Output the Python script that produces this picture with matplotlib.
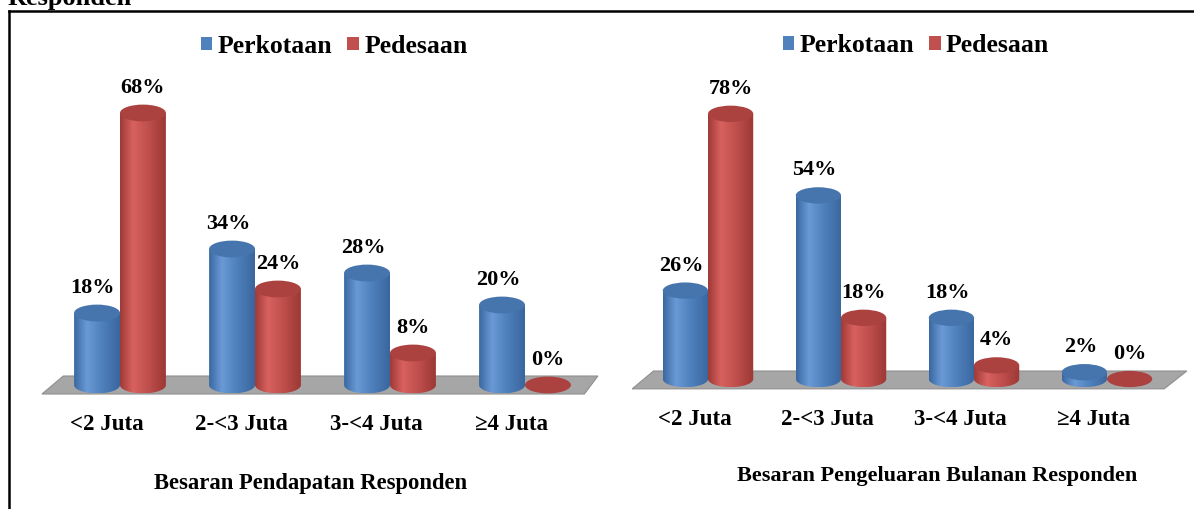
import matplotlib
matplotlib.use('Agg')
import matplotlib.pyplot as plt
import numpy as np
from matplotlib.patches import Polygon, Ellipse, Patch
from matplotlib.colors import LinearSegmentedColormap

plt.rcParams['font.family'] = ['Liberation Serif', 'DejaVu Serif']
plt.rcParams['font.weight'] = 'bold'

categories = ['<2 Juta', '2-<3 Juta', '3-<4 Juta', '\u22654 Juta']
series = ['Perkotaan', 'Pedesaan']

pendapatan_kota = [18, 34, 28, 20]
pendapatan_desa = [68, 24, 8, 0]

pengeluaran_kota = [26, 54, 18, 2]
pengeluaran_desa = [78, 18, 4, 0]

title_left = 'Besaran Pendapatan Responden'
title_right = 'Besaran Pengeluaran Bulanan Responden'

blue_cmap = LinearSegmentedColormap.from_list(
    'b', [(0, '#3a67a0'), (0.28, '#6a9ad6'), (0.6, '#4f81bd'), (1, '#3a669e')])
red_cmap = LinearSegmentedColormap.from_list(
    'r', [(0, '#9e3a37'), (0.28, '#d8615e'), (0.6, '#c0504d'), (1, '#9c3835')])
blue_top = '#4674ad'
red_top = '#ab423f'

W = 1194
H = 509
fig = plt.figure(figsize=(W / 100, H / 100), dpi=100)


def cylinder(ax, xc, val, w, eh, cmap, top_color, z):
    if val > 0:
        t = np.linspace(np.pi, 2 * np.pi, 60)
        verts = list(zip(xc + w / 2 * np.cos(t), eh / 2 * np.sin(t)))
        verts += [(xc + w / 2, val), (xc - w / 2, val)]
        body = Polygon(verts, closed=True, facecolor='none', edgecolor='none', zorder=z)
        ax.add_patch(body)
        grad = np.linspace(0, 1, 200).reshape(1, -1)
        im = ax.imshow(grad, cmap=cmap, extent=(xc - w / 2, xc + w / 2, -eh / 2, val),
                       aspect='auto', origin='lower', zorder=z, interpolation='bilinear')
        im.set_clip_path(body)
    ax.add_patch(Ellipse((xc, val), w, eh, facecolor=top_color, edgecolor='none', zorder=z + 0.1))


def panel(rect, kota, desa, ylim, eh, floor, lab_y, title, title_x, title_y, title_fs, leg_pos):
    ax = fig.add_axes(rect)
    ax.add_patch(Polygon(floor, closed=True, facecolor='#a6a6a6', edgecolor='#8f8f8f',
                         lw=0.8, zorder=1))
    x = np.arange(len(categories))
    w = 0.34
    px_per = (rect[3] * H) / (ylim[1] - ylim[0])
    off = 25 / px_per
    for i in range(len(categories)):
        cylinder(ax, x[i] - w / 2, kota[i], w, eh, blue_cmap, blue_top, 2 + i)
        cylinder(ax, x[i] + w / 2, desa[i], w, eh, red_cmap, red_top, 2.5 + i)
        ax.text(x[i] - w / 2 - 0.03, kota[i] + off, f'{kota[i]}%', ha='center', va='center',
                fontsize=16, fontweight='bold', zorder=10)
        ax.text(x[i] + w / 2, desa[i] + off, f'{desa[i]}%', ha='center', va='center',
                fontsize=16, fontweight='bold', zorder=10)
        ax.text(x[i] - 0.1, lab_y, categories[i], ha='center', va='center',
                fontsize=16.5, fontweight='bold')
    ax.text(title_x, title_y, title, ha='center', va='center', fontsize=title_fs,
            fontweight='bold')
    handles = [Patch(facecolor='#4f81bd'), Patch(facecolor='#c0504d')]
    ax.legend(handles, series, loc='center', bbox_to_anchor=leg_pos, ncol=2, frameon=False,
              handlelength=0.45, handleheight=0.45, handletextpad=0.2,
              columnspacing=0.6, prop={'weight': 'bold', 'size': 18.5})
    ax.set_xlim(-0.75, 3.75)
    ax.set_ylim(*ylim)
    ax.axis('off')
    return ax


# left panel: 135 px per group, 4 px per percent, baseline at y=385 px
ylim_l = (-30, 80)
left_rect = [18.75 / W, (H - 505) / H, 607.5 / W, 440 / H]
floor_l = [(-0.578, -2.25), (-0.42, 2.25), (3.54, 2.25), (3.44, -2.25)]
panel(left_rect, pendapatan_kota, pendapatan_desa, ylim_l, 4.2, floor_l,
      -9.75, title_left, 1.41, -24.5, 16.3, (0.519, 1.043))

# right panel: 133 px per group, 3.4 px per percent, baseline at y=379 px
ylim_r = (-35, 90)
right_rect = [608.25 / W, (H - 498) / H, 598.5 / W, 425 / H]
floor_r = [(-0.57, -2.9), (-0.41, 2.35), (3.6, 2.35), (3.43, -2.9)]
panel(right_rect, pengeluaran_kota, pengeluaran_desa, ylim_r, 4.8, floor_r,
      -11.8, title_right, 1.72, -28.5, 16, (0.514, 1.064))

# frame and cut-off heading
fig.add_artist(plt.Line2D([9 / W, 9 / W], [0, 1 - 11 / H], color='black', lw=1.8))
fig.add_artist(plt.Line2D([9 / W, 1], [1 - 11 / H, 1 - 11 / H], color='black', lw=1.8))
fig.text(8 / W, 1 - 5 / H, 'Responden', ha='left', va='baseline', fontsize=19, fontweight='bold')

fig.savefig('out.png', dpi=100)
